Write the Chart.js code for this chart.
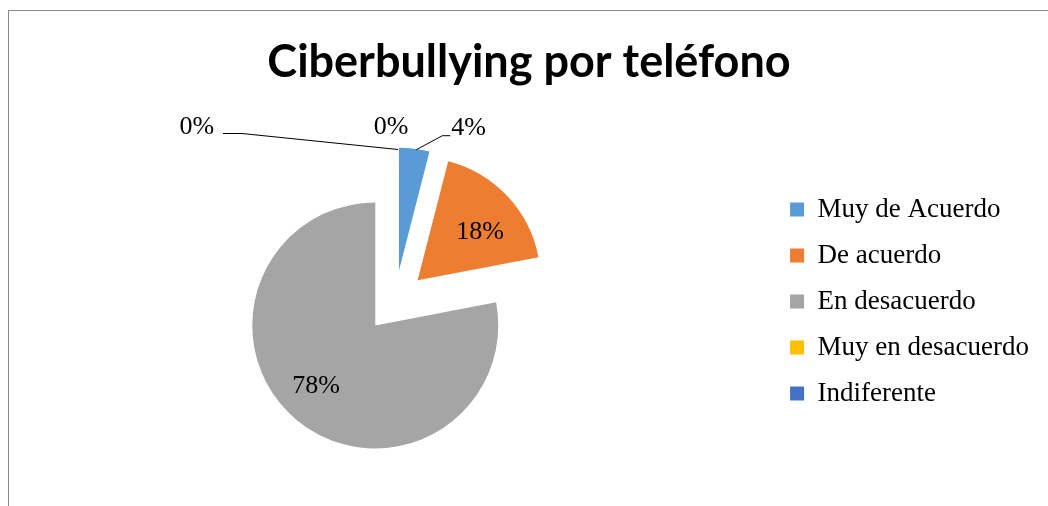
<!DOCTYPE html>
<html>
<head>
<meta charset="utf-8">
<script src="https://cdn.jsdelivr.net/npm/chart.js@4.4.0/dist/chart.umd.min.js"></script>
<style>
  html, body { margin: 0; padding: 0; background: #fff; overflow: hidden; }
  #frame {
    position: absolute; left: 8px; top: 10px; width: 1100px; height: 600px;
    border-top: 1px solid #898989; border-left: 1px solid #898989;
  }
  #chart { position: absolute; left: 0; top: 0; }
</style>
</head>
<body>
<div id="frame"></div>
<canvas id="chart" width="1048" height="506"></canvas>
<script>
const categories = ['Muy de Acuerdo', 'De acuerdo', 'En desacuerdo', 'Muy en desacuerdo', 'Indiferente'];
const percents = [4, 18, 78, 0, 0];
const sliceColors = ['#5B9BD5', '#ED7D31', '#A5A5A5', '#FFC000', '#4472C4'];

const EXPLODE = 31;
const serif = '"Liberation Serif", "Times New Roman", serif';

// where each percentage label goes, relative to its slice
const labelPlacement = [
  { line: [[2, 1], [28, -13], [36, -13]], text: [37, -21], align: 'left' },
  { inside: 0.64, dx: 5, dy: 6 },
  { inside: 0.68, dx: -6, dy: -4 },
  { text: [-4, -20], align: 'center' },
  { line: [[3, 2], [-153, -14], [-172, -14]], text: [-181, -20], align: 'right' },
];

// pull every slice out from the centre, like an exploded Excel pie
const explodePlugin = {
  id: 'explode',
  beforeDatasetDraw(chart, args) {
    const ctx = chart.ctx;
    args.meta.data.forEach(arc => {
      const mid = (arc.startAngle + arc.endAngle) / 2;
      ctx.save();
      ctx.translate(Math.cos(mid) * EXPLODE, Math.sin(mid) * EXPLODE);
      arc.draw(ctx);
      ctx.restore();
    });
    return false;
  }
};

const pieLabels = {
  id: 'pieLabels',
  afterDatasetsDraw(chart) {
    const ctx = chart.ctx;
    const meta = chart.getDatasetMeta(0);
    ctx.save();
    ctx.font = '26px ' + serif;
    ctx.fillStyle = '#000';
    ctx.strokeStyle = '#000';
    ctx.lineWidth = 1;
    ctx.textBaseline = 'middle';
    meta.data.forEach((arc, i) => {
      const text = percents[i] + '%';
      const p = labelPlacement[i];
      const mid = (arc.startAngle + arc.endAngle) / 2;
      const cx = arc.x + Math.cos(mid) * EXPLODE;
      const cy = arc.y + Math.sin(mid) * EXPLODE;
      if (p.inside != null) {
        const d = arc.outerRadius * p.inside;
        ctx.textAlign = 'center';
        ctx.fillText(text, cx + Math.cos(mid) * d + p.dx, cy + Math.sin(mid) * d + p.dy);
        return;
      }
      const ax = cx + Math.cos(mid) * arc.outerRadius;
      const ay = cy + Math.sin(mid) * arc.outerRadius;
      if (p.line) {
        ctx.beginPath();
        p.line.forEach(([dx, dy], k) => {
          if (k === 0) ctx.moveTo(ax + dx, ay + dy);
          else ctx.lineTo(ax + dx, ay + dy);
        });
        ctx.stroke();
      }
      ctx.textAlign = p.align;
      ctx.fillText(text, ax + p.text[0], ay + p.text[1]);
    });
    ctx.restore();
  }
};

new Chart(document.getElementById('chart'), {
  type: 'pie',
  data: {
    labels: categories,
    datasets: [{
      data: percents,
      backgroundColor: sliceColors,
      borderWidth: 0,
    }]
  },
  options: {
    responsive: false,
    animation: false,
    events: [],
    radius: 123,
    layout: { padding: { left: 19, right: 9, top: 0, bottom: 0 } },
    plugins: {
      title: {
        display: true,
        text: 'Ciberbullying por teléfono',
        color: '#000',
        font: { family: 'Lato', size: 45, weight: 'bold' },
        padding: { top: 35, bottom: 8 },
      },
      legend: {
        position: 'right',
        fullSize: false,
        labels: {
          color: '#000',
          font: { family: serif, size: 27 },
          boxWidth: 14,
          boxHeight: 14,
          padding: 19,
        }
      },
      tooltip: { enabled: false },
    }
  },
  plugins: [explodePlugin, pieLabels]
});
</script>
</body>
</html>
